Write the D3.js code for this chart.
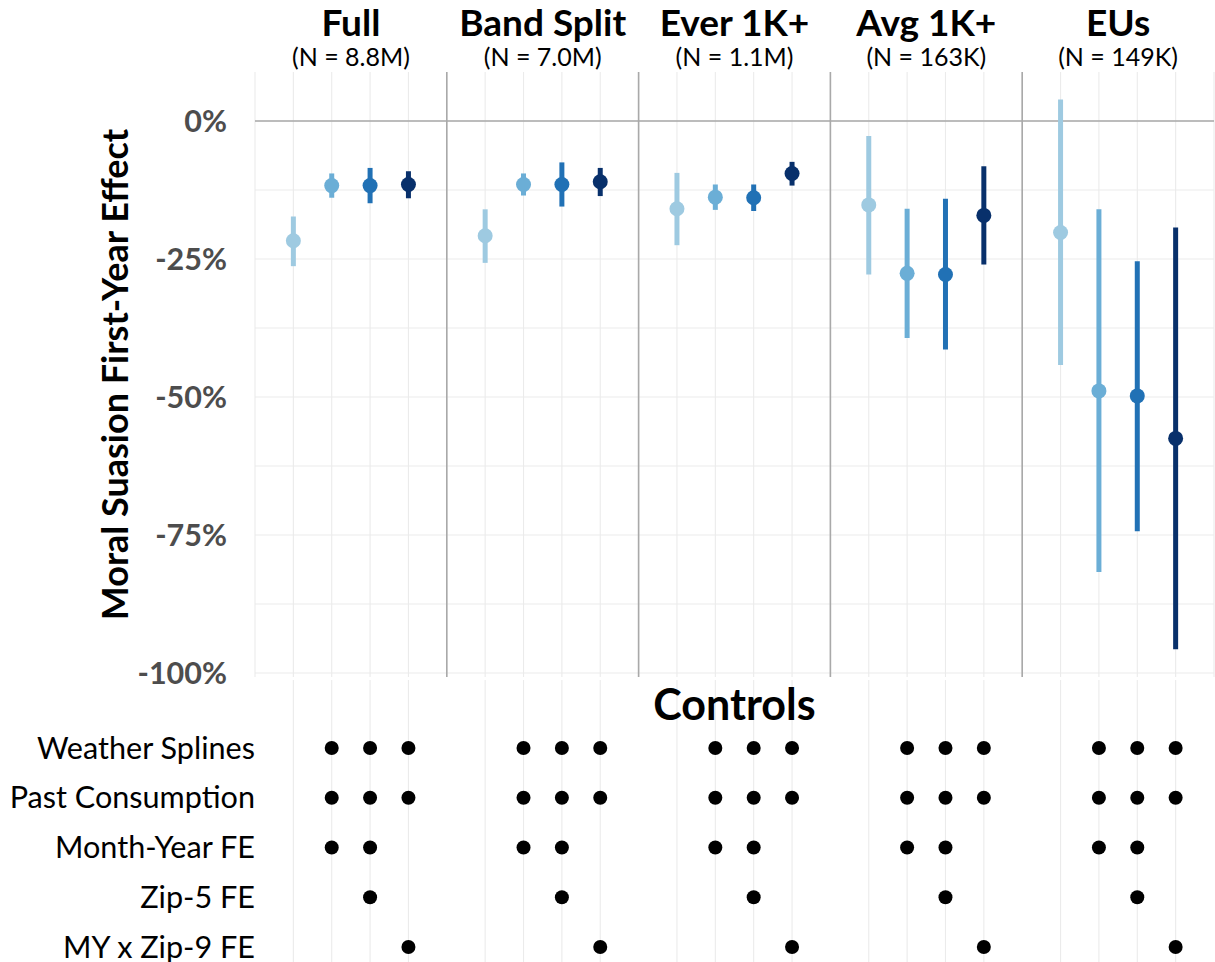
<!DOCTYPE html>
<html>
<head>
<meta charset="utf-8">
<script src="https://cdn.jsdelivr.net/npm/d3@7"></script>
<style>
  html, body { margin: 0; padding: 0; background: #fff; }
  svg { display: block; font-family: Lato, "Open Sans", sans-serif; }
</style>
</head>
<body>
<svg id="chart" width="1215" height="962"></svg>
<script>
// ── Data ────────────────────────────────────────────────────────────────
const panels   = ['Full', 'Band Split', 'Ever 1K+', 'Avg 1K+', 'EUs'];
const panelN   = ['8.8M', '7.0M', '1.1M', '163K', '149K'];
const specs    = [1, 2, 3, 4];
// point estimates (%), one row per panel, one value per spec
const estimate = [
  [-21.7, -11.7, -11.7, -11.5],
  [-20.8, -11.5, -11.5, -11.0],
  [-15.9, -13.8, -13.9,  -9.5],
  [-15.2, -27.6, -27.8, -17.1],
  [-20.2, -48.9, -49.8, -57.5]
];
const ciHigh = [
  [-17.3,  -9.5,  -8.5,  -9.1],
  [-16.0,  -9.5,  -7.5,  -8.5],
  [ -9.4, -11.5, -11.5,  -7.4],
  [ -2.7, -15.9, -14.1,  -8.2],
  [  3.9, -16.0, -25.4, -19.3]
];
const ciLow = [
  [-26.3, -13.9, -14.9, -14.0],
  [-25.7, -13.5, -15.5, -13.6],
  [-22.5, -16.1, -16.3, -11.7],
  [-27.8, -39.3, -41.4, -26.0],
  [-44.2, -81.7, -74.3, -95.7]
];
const yTicks   = [0, -25, -50, -75, -100];
const controls = ['Weather Splines', 'Past Consumption', 'Month-Year FE', 'Zip-5 FE', 'MY x Zip-9 FE'];
// which specs include each control
const controlSpecs = [
  [2, 3, 4],
  [2, 3, 4],
  [2, 3],
  [3],
  [4]
];
const specColors = ['#9ecae1', '#6baed6', '#2171b5', '#08306b'];

// ── Layout ──────────────────────────────────────────────────────────────
const svg = d3.select('#chart');
const plotL = 255, plotR = 1214, plotT = 72, plotB = 677;
const perPanel = 5;

const x = d3.scaleLinear().domain([0, panels.length * perPanel]).range([plotL, plotR]);
const y = d3.scaleLinear().domain([-100, 0]).range([673, 121]);
const color = d3.scaleOrdinal().domain(specs).range(specColors);
const rowY = d3.scalePoint().domain(controls).range([748, 947]);
const xPos = (p, s) => x(p * perPanel + s);

// ── Grid (top) ──────────────────────────────────────────────────────────
const grid = svg.append('g');
grid.selectAll('line.hg').data(d3.range(0, -100.1, -12.5)).join('line')
  .attr('x1', plotL).attr('x2', plotR)
  .attr('y1', d => y(d)).attr('y2', d => y(d))
  .attr('stroke', '#ebebeb').attr('stroke-width', 1.1);
grid.selectAll('line.vg').data(d3.range(0, panels.length * perPanel + 1)).join('line')
  .attr('x1', d => x(d)).attr('x2', d => x(d))
  .attr('y1', plotT).attr('y2', plotB)
  .attr('stroke', '#ebebeb').attr('stroke-width', 1.1);

// zero line + panel separators
svg.append('line')
  .attr('x1', plotL).attr('x2', plotR).attr('y1', y(0)).attr('y2', y(0))
  .attr('stroke', '#a9a9a9').attr('stroke-width', 1.6);
svg.append('g').selectAll('line').data(d3.range(1, panels.length)).join('line')
  .attr('x1', d => x(d * perPanel)).attr('x2', d => x(d * perPanel))
  .attr('y1', plotT).attr('y2', plotB)
  .attr('stroke', '#a9a9a9').attr('stroke-width', 1.6);

// ── Y axis ──────────────────────────────────────────────────────────────
const yAxis = svg.append('g')
  .attr('transform', `translate(${plotL},0)`)
  .call(d3.axisLeft(y).tickValues(yTicks).tickSize(0).tickPadding(28).tickFormat(d => d + '%'));
yAxis.select('.domain').remove();
yAxis.selectAll('text')
  .attr('fill', '#4d4d4d').attr('font-size', 30.5).attr('font-weight', 700)
  .attr('font-family', 'Lato').attr('dy', '0.35em');

svg.append('text')
  .attr('transform', `translate(128,${(plotT + plotB) / 2}) rotate(-90)`)
  .attr('text-anchor', 'middle')
  .attr('font-size', 36).attr('font-weight', 700).attr('fill', '#000')
  .text('Moral Suasion First-Year Effect');

// ── Panel titles ────────────────────────────────────────────────────────
const titles = svg.append('g').selectAll('g').data(panels).join('g')
  .attr('transform', (d, i) => `translate(${x(i * perPanel + perPanel / 2)},0)`);
titles.append('text')
  .attr('y', 36).attr('text-anchor', 'middle')
  .attr('font-size', 37).attr('font-weight', 700)
  .text(d => d);
titles.append('text')
  .attr('y', 66).attr('text-anchor', 'middle')
  .attr('font-size', 25)
  .text((d, i) => `(N = ${panelN[i]})`);

// ── Estimates ───────────────────────────────────────────────────────────
const points = [];
panels.forEach((p, pi) => specs.forEach((s, si) => points.push({
  panel: pi, spec: s, est: estimate[pi][si], lo: ciLow[pi][si], hi: ciHigh[pi][si]
})));

const marks = svg.append('g');
marks.selectAll('line').data(points).join('line')
  .attr('x1', d => xPos(d.panel, d.spec)).attr('x2', d => xPos(d.panel, d.spec))
  .attr('y1', d => y(d.hi)).attr('y2', d => y(d.lo))
  .attr('stroke', d => color(d.spec)).attr('stroke-width', 5);
marks.selectAll('circle').data(points).join('circle')
  .attr('cx', d => xPos(d.panel, d.spec)).attr('cy', d => y(d.est))
  .attr('r', 7.5)
  .attr('fill', d => color(d.spec));

// ── Controls table ──────────────────────────────────────────────────────
const bottomGrid = [];
panels.forEach((p, pi) => specs.forEach(s => bottomGrid.push(xPos(pi, s))));
svg.append('g').selectAll('line').data(bottomGrid).join('line')
  .attr('x1', d => d).attr('x2', d => d)
  .attr('y1', 680).attr('y2', 962)
  .attr('stroke', '#ebebeb').attr('stroke-width', 1.1);

svg.append('text')
  .attr('x', (plotL + plotR) / 2).attr('y', 720)
  .attr('text-anchor', 'middle')
  .attr('font-size', 43).attr('font-weight', 700)
  .text('Controls');

svg.append('g').selectAll('text').data(controls).join('text')
  .attr('x', plotL).attr('y', d => rowY(d)).attr('dy', '0.35em')
  .attr('text-anchor', 'end')
  .attr('font-size', 30.6).attr('fill', '#000')
  .text(d => d);

const dots = [];
controls.forEach((c, ci) => panels.forEach((p, pi) =>
  controlSpecs[ci].forEach(s => dots.push({ control: c, panel: pi, spec: s }))));
svg.append('g').selectAll('circle').data(dots).join('circle')
  .attr('cx', d => xPos(d.panel, d.spec)).attr('cy', d => rowY(d.control))
  .attr('r', 7).attr('fill', '#000');
</script>
</body>
</html>
